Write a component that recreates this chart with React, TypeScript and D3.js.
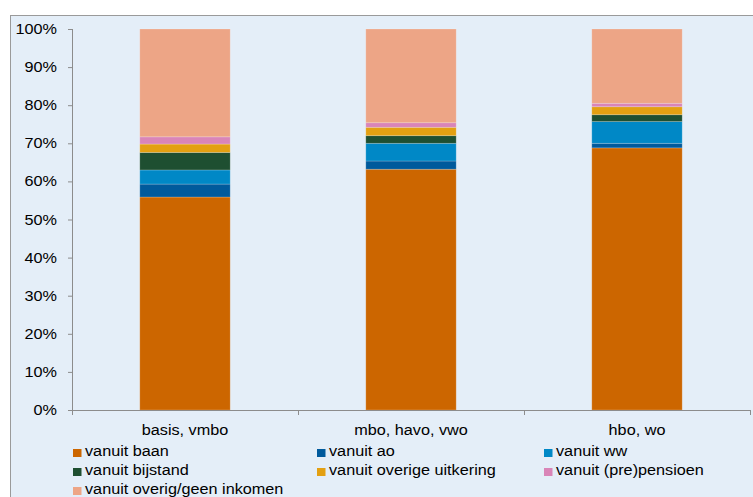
import React from "react";
import * as d3 from "d3";

const categories = ["basis, vmbo", "mbo, havo, vwo", "hbo, wo"];
const seriesNames = [
  "vanuit baan",
  "vanuit ao",
  "vanuit ww",
  "vanuit bijstand",
  "vanuit overige uitkering",
  "vanuit (pre)pensioen",
  "vanuit overig/geen inkomen",
];
const baan = [55.9, 63.2, 68.8];
const ao = [3.4, 2.15, 1.2];
const ww = [3.7, 4.65, 5.7];
const bijstand = [4.6, 2.0, 1.8];
const overigeUitkering = [2.2, 2.2, 2.1];
const pensioen = [1.9, 1.2, 0.9];
const overigGeen = [28.3, 24.6, 19.5];
const yTicks = [0, 10, 20, 30, 40, 50, 60, 70, 80, 90, 100];

const colors = ["#CC6600", "#005A9C", "#0088C6", "#1E4F31", "#E3A012", "#D985B8", "#EDA586"];

const font = "'Liberation Sans', Arial, sans-serif";
const SX = 1.12;
const FS = 14.5;

function T({ x, y, anchor, children }: { x: number; y: number; anchor?: string; children: any }) {
  return (
    <text
      transform={`translate(${x},${y}) scale(${SX},1)`}
      textAnchor={anchor || "start"}
      fontFamily={font}
      fontSize={FS}
      fill="#000"
    >
      {children}
    </text>
  );
}

export default function App() {
  const W = 753, H = 497;
  const left = 72, right = 750, top = 29, bottom = 410;
  const series = [baan, ao, ww, bijstand, overigeUitkering, pensioen, overigGeen];
  const rows = categories.map((c, i) => {
    const r: any = { cat: c };
    seriesNames.forEach((s, k) => (r[s] = series[k][i]));
    return r;
  });
  const stacked = d3.stack<any>().keys(seriesNames)(rows);
  const x = d3.scaleBand().domain(categories).range([left, right]).paddingInner(0.6).paddingOuter(0.3);
  const xb = d3.scaleBand().domain(categories).range([left, right]);
  const y = d3.scaleLinear().domain([0, 100]).range([bottom, top]);
  const legendCols = [73, 317, 544];
  const legendRows = [451, 470, 489];
  return (
    <svg width={W} height={H} style={{ position: "absolute", left: 0, top: 0 }}>
      <rect x={0} y={0} width={W} height={H} fill="#fff" />
      <rect x={10.5} y={15.5} width={W} height={H} fill="#E4EEF8" stroke="#9A9A9A" strokeWidth={1} />
      {stacked.map((layer, k) => (
        <g key={k}>
          {layer.map((d, i) => (
            <rect
              key={i}
              x={x(categories[i])}
              width={x.bandwidth()}
              y={y(d[1])}
              height={y(d[0]) - y(d[1])}
              fill={colors[k]}
              stroke="rgba(255,255,255,0.25)"
              strokeWidth={0.8}
            />
          ))}
        </g>
      ))}
      <line x1={left + 0.5} x2={left + 0.5} y1={top} y2={bottom} stroke="#8C8C8C" />
      <line x1={left} x2={right} y1={bottom + 0.5} y2={bottom + 0.5} stroke="#8C8C8C" />
      {yTicks.map((t) => (
        <g key={t}>
          <line x1={left - 4} x2={left} y1={y(t) + 0.5} y2={y(t) + 0.5} stroke="#8C8C8C" />
          <T x={left - 15} y={y(t) + 5} anchor="end">
            {t}%
          </T>
        </g>
      ))}
      {categories.map((c) => (
        <line key={c + "t"} x1={(xb(c) as number) + xb.bandwidth() + 0.5} x2={(xb(c) as number) + xb.bandwidth() + 0.5} y1={bottom} y2={bottom + 5} stroke="#8C8C8C" />
      ))}
      <line x1={left + 0.5} x2={left + 0.5} y1={bottom} y2={bottom + 5} stroke="#8C8C8C" />
      {categories.map((c) => (
        <T key={c} x={(xb(c) as number) + xb.bandwidth() / 2} y={435} anchor="middle">
          {c}
        </T>
      ))}
      {seriesNames.map((s, k) => {
        const cx = legendCols[k % 3];
        const cy = legendRows[Math.floor(k / 3)];
        return (
          <g key={s}>
            <rect x={cx} y={cy - 2} width={8.5} height={8} fill={colors[k]} />
            <T x={cx + 12} y={cy + 5}>
              {s}
            </T>
          </g>
        );
      })}
    </svg>
  );
}
